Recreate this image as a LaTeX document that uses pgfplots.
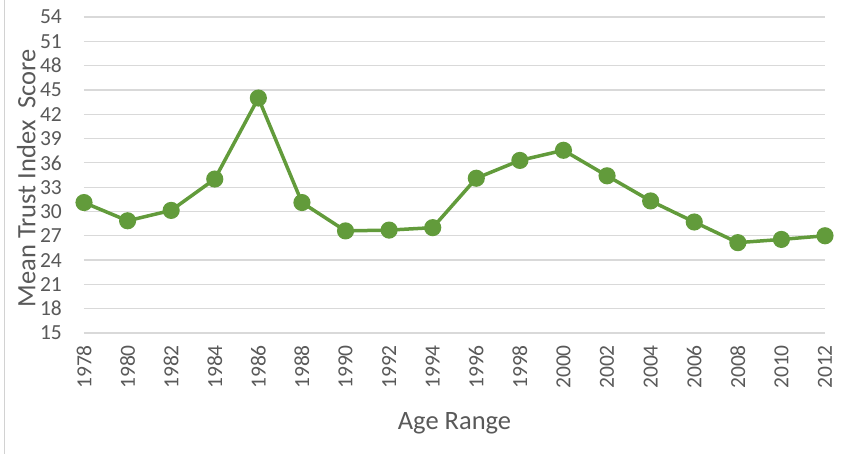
\documentclass[border=0pt]{standalone}
\usepackage{pgfplots}
\pgfplotsset{compat=1.18}
\usepackage{fontspec}
\setmainfont{Carlito}
\definecolor{linegreen}{RGB}{98,155,59}
\definecolor{gridgray}{RGB}{217,217,217}
\definecolor{txtgray}{RGB}{89,89,89}
\begin{document}
\begin{tikzpicture}
\path[use as bounding box] (-84bp,-121bp) rectangle (757bp,333bp);
\draw[gray!35, line width=1bp] (-79bp,-121bp) -- (-79bp,333bp);
\begin{axis}[
  scale only axis,
  width=741bp, height=316bp,
  xmin=1978, xmax=2012,
  ymin=15, ymax=54,
  xtick={1978,1980,...,2012},
  ytick={15,18,...,54},
  /pgf/number format/assume math mode=true,
  /pgf/number format/1000 sep={},
  axis line style={draw=none},
  major tick length=0pt,
  ymajorgrids,
  major grid style={color=gridgray, line width=1.3bp},
  tick label style={font=\fontsize{21.5bp}{24bp}\selectfont, text=txtgray, inner sep=0pt},
  yticklabel style={anchor=east},
  yticklabel shift=22bp,
  xticklabel style={rotate=90, anchor=east},
  xticklabel shift=12bp,
  xlabel={Age Range},
  ylabel={Mean Trust Index~~Score},
  label style={font=\fontsize{26.5bp}{30bp}\selectfont, text=txtgray, inner sep=0pt},
  xlabel style={at={(axis description cs:0.5,-0.286)}, anchor=center},
  ylabel style={at={(axis description cs:-0.078,0.49)}, anchor=center},
  clip=false,
]
\addplot[color=linegreen, line width=3.5bp, mark=*, mark size=6.8bp,
  mark options={fill=linegreen, draw=none}]
coordinates {
(1978,31.1) (1980,28.85) (1982,30.13) (1984,34.0) (1986,44.0)
(1988,31.1) (1990,27.6) (1992,27.7) (1994,28.0) (1996,34.1)
(1998,36.3) (2000,37.55) (2002,34.4) (2004,31.3) (2006,28.7)
(2008,26.15) (2010,26.55) (2012,27.0)
};
\end{axis}
\end{tikzpicture}
\end{document}
